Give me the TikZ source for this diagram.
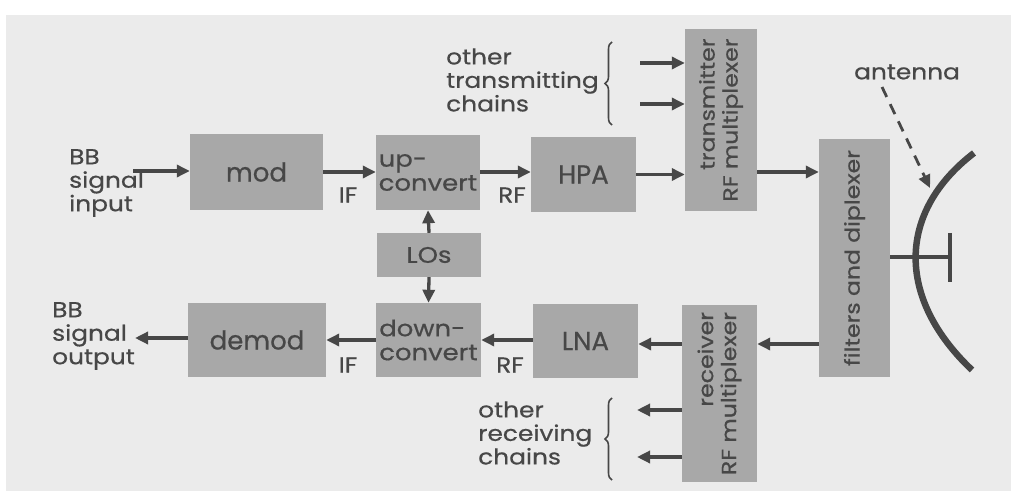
\documentclass[tikz,border=0pt]{standalone}
\usepackage{fontspec}
\setmainfont{Poppins}[FakeStretch=1.15,FakeBold=0.6]
\newfontfamily\bigf{Poppins}[FakeStretch=1.0,FakeBold=0.6]
\usetikzlibrary{arrows.meta,decorations.pathreplacing}
\definecolor{bg}{HTML}{EBEBEB}
\definecolor{boxc}{HTML}{A8A8A8}
\definecolor{ink}{HTML}{474747}
\begin{document}
\begin{tikzpicture}[x=1pt,y=-1pt,
  blk/.style={fill=boxc,draw=none,inner sep=0pt,text=ink},
  big/.style={font=\bigf\fontsize{26}{29}\selectfont},
  sm/.style={font=\fontsize{22.5}{24}\selectfont},
  rot/.style={text=ink,rotate=90,inner sep=0pt,font=\fontsize{20.5}{23}\selectfont},
  lbl/.style={text=ink,inner sep=0pt,align=left,font=\fontsize{21.6}{23.5}\selectfont},
  arr/.style={draw=ink,line width=3.3pt,-{Triangle[length=13pt,width=12pt]}},
  brc/.style={draw=ink,line width=1.6pt,decorate,decoration={brace,amplitude=7pt}},
]
\path[use as bounding box,fill=white] (0,0) rectangle (1011,494);
\fill[bg] (6,15) rectangle (1011,491);

% blocks
\node[blk,big,minimum width=133pt,minimum height=76pt] (mod) at (256.5,172) {mod};
\node[blk,sm,align=left,minimum width=104pt,minimum height=75pt] (up) at (428,172.5) {up-\\convert};
\node[blk,sm,minimum width=104pt,minimum height=44pt] (LOs) at (429,255) {LOs};
\node[blk,sm,align=left,minimum width=105pt,minimum height=74pt] (down) at (428.5,340) {down-\\convert};
\node[blk,big,minimum width=138pt,minimum height=74pt] (demod) at (257,340) {demod};
\node[blk,big,minimum width=105pt,minimum height=75pt] (HPA) at (583.5,174.5) {HPA};
\node[blk,minimum width=72pt,minimum height=182pt] (txmux) at (721,120) {};
\node[rot,align=right] (txmuxt) at (txmux.center) {transmitter\\RF multiplexer};
\node[blk,minimum width=71pt,minimum height=238pt] (filt) at (854.5,258) {};
\node[rot] (filtt) at (filt.center) {filters and diplexer};
\node[blk,big,minimum width=105pt,minimum height=74pt] (LNA) at (585.5,341) {LNA};
\node[blk,minimum width=75pt,minimum height=177pt] (rxmux) at (719.5,393.5) {};
\node[rot,align=right] (rxmuxt) at (rxmux.center) {receiver\\RF multiplexer};

% labels
\node[lbl,anchor=west] (bbin) at (69,183) {BB\\signal\\input};
\node[lbl,anchor=west] (bbout) at (52,336) {BB\\signal\\output};
\node[lbl] (if1) at (348,195) {IF};
\node[lbl] (rf1) at (512,195) {RF};
\node[lbl] (if2) at (348,365) {IF};
\node[lbl] (rf2) at (510,365) {RF};
\node[lbl,anchor=west] (otx) at (446,80) {other\\transmitting\\chains};
\node[lbl,anchor=west] (orx) at (478,433) {other\\receiving\\chains};
\node[lbl] (ant) at (907,72) {antenna};

% helper coordinates
\coordinate (inA) at (133,171);
\coordinate (outA) at (135,338);
\coordinate (yt) at (0,172);
\coordinate (yb) at (0,344);
\coordinate (t1) at (640,63);
\coordinate (t2) at (640,104);
\coordinate (r1) at (637,410);
\coordinate (r2) at (637,457);

% transmit chain
\draw[arr] (inA) -- (mod.west |- inA);
\draw[arr] (mod.east |- yt) -- (up.west |- yt);
\draw[arr] (up.east |- yt) -- (HPA.west |- yt);
\draw[arr] (HPA.east) -- (HPA.east -| txmux.west);
\draw[arr] (txmux.east |- yt) -- (filt.west |- yt);
\draw[arr] (t1) -- (t1 -| txmux.west);
\draw[arr] (t2) -- (t2 -| txmux.west);
\draw[arr] (LOs.north) -- (up.south);
\draw[arr] (LOs.south) -- (down.north);

% receive chain
\draw[arr] (filt.west |- yb) -- (rxmux.east |- yb);
\draw[arr] (rxmux.west |- yb) -- (LNA.east |- yb);
\draw[arr] (LNA.west |- down.west) -- (down.east);
\draw[arr] (down.west) -- (demod.east);
\draw[arr] (demod.west |- outA) -- (outA);
\draw[arr] (r1 -| rxmux.west) -- (r1);
\draw[arr] (r2 -| rxmux.west) -- (r2);

% braces
\draw[brc] (612,125) -- (612,42);
\draw[brc] (612,480) -- (612,398);

% antenna
\coordinate (dishT) at (974,153);
\coordinate (dishB) at (972,370);
\coordinate (feed) at (950,257);
\draw[ink,line width=6.5pt] (dishT) .. controls (897,212) and (896,298) .. (dishB);
\draw[ink,line width=3.3pt] (filt.east |- feed) -- (feed);
\draw[ink,line width=4.5pt] (950,233) -- (950,282);
\coordinate (antS) at (882,87);
\coordinate (antE) at (930,188);
\draw[arr,line width=2.8pt,dash pattern=on 11pt off 8pt] (antS) -- (antE);
\end{tikzpicture}
\end{document}
